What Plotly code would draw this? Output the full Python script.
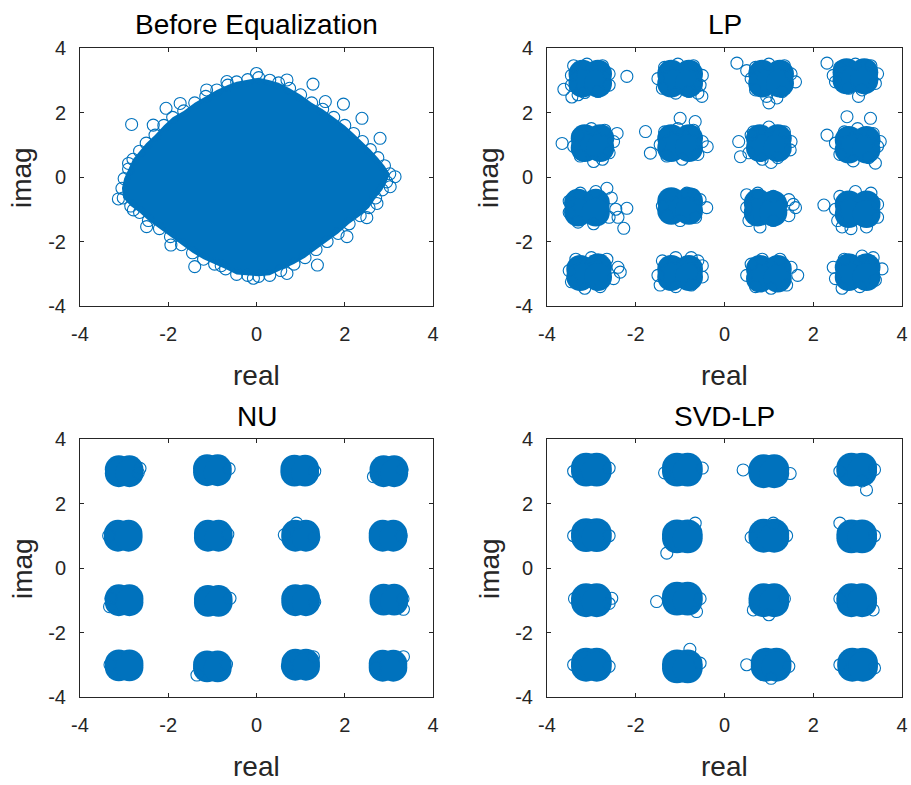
import plotly.graph_objects as go

BLUE = '#0072BD'
INK = '#262626'
FONT = 'Liberation Sans, Arial, Helvetica, sans-serif'

titles = ['Before Equalization', 'LP', 'NU', 'SVD-LP']
x_label = 'real'
y_label = 'imag'
tick_vals = [-4, -2, 0, 2, 4]
tick_text = ['-4', '-2', '0', '2', '4']

# ---------- Panel 1: Before Equalization ----------
# outer ring of the dense cloud, clockwise from the top
blob_ring = [
    (-0.45, 2.95), (-0.2, 3.02), (0.05, 3.08), (0.3, 3.0), (0.5, 2.92),
    (0.75, 2.75), (1.0, 2.55), (1.25, 2.3), (1.5, 2.1), (1.75, 1.85), (2.0, 1.6),
    (2.2, 1.35), (2.4, 1.1), (2.58, 0.85), (2.75, 0.6), (2.9, 0.35), (3.02, 0.1),
    (2.95, -0.15), (2.85, -0.4), (2.7, -0.65), (2.55, -0.95), (2.35, -1.2),
    (2.1, -1.45), (1.85, -1.75), (1.6, -2.0), (1.35, -2.25), (1.1, -2.5),
    (0.85, -2.7), (0.55, -2.9), (0.3, -3.05), (0.05, -3.08),
    (-0.2, -3.05), (-0.45, -3.02), (-0.7, -2.85), (-0.95, -2.7), (-1.2, -2.55),
    (-1.45, -2.35), (-1.7, -2.1), (-1.95, -1.85), (-2.2, -1.6), (-2.45, -1.35),
    (-2.65, -1.1), (-2.85, -0.9), (-3.02, -0.65),
    (-3.05, -0.35), (-3.0, -0.05), (-2.9, 0.25), (-2.8, 0.55), (-2.65, 0.8),
    (-2.5, 1.05), (-2.3, 1.3), (-2.1, 1.6), (-1.9, 1.85), (-1.65, 2.05),
    (-1.4, 2.3), (-1.15, 2.5), (-0.9, 2.7), (-0.65, 2.85),
]
# sparse samples outside the dense cloud
blob_outliers = [
    (-2.83, 1.63), (-2.34, 1.61), (-2.05, 2.13), (1.28, 2.88), (0.69, 3.01),
    (-0.67, 2.96), (0.0, 3.21), (1.56, 2.34), (1.97, 2.26), (2.39, 1.82),
    (2.8, 1.2), (-1.73, 2.28), (-1.13, 2.7), (3.14, 0.01),
    (-3.13, -0.68), (-2.9, 0.42), (-1.4, -2.78), (1.38, -2.73), (2.73, -0.82),
    (2.5, -1.26), (-1.94, -2.11), (-0.8, -2.75), (-2.79, -1.02), (-2.49, -1.54),
    (2.05, -1.85), (3.03, -0.3), (0.69, -2.99), (-0.07, -3.14),
]

# ---------- Panel 2: LP ----------
lp_core = [
    (-3.2, 3.2), (-2.85, 3.2), (-3.2, 2.9), (-2.85, 2.9),
    (-1.2, 3.2), (-0.8, 3.2), (-1.2, 2.9), (-0.8, 2.9),
    (0.85, 3.2), (1.25, 3.2), (0.85, 2.9), (1.25, 2.9),
    (2.75, 3.25), (3.15, 3.25), (2.75, 3.0), (3.15, 3.0),
    (-3.15, 1.2), (-2.8, 1.2), (-3.15, 0.9), (-2.8, 0.9),
    (-1.2, 1.2), (-0.8, 1.2), (-1.2, 0.9), (-0.8, 0.9),
    (0.8, 1.2), (1.2, 1.2), (0.8, 0.9), (1.2, 0.9),
    (2.8, 1.15), (3.2, 1.15), (2.8, 0.85), (3.2, 0.85),
    (-3.3, -0.8), (-2.9, -0.8), (-3.3, -1.1), (-2.9, -1.1),
    (-1.2, -0.75), (-0.8, -0.75), (-1.2, -1.05), (-0.8, -1.05),
    (0.75, -0.8), (1.1, -0.85), (0.75, -1.1), (1.1, -1.1),
    (2.8, -0.85), (3.2, -0.85), (2.8, -1.15), (3.2, -1.15),
    (-3.25, -2.85), (-2.85, -2.8), (-3.25, -3.1), (-2.85, -3.1),
    (-1.2, -2.85), (-0.8, -2.85), (-1.2, -3.1), (-0.8, -3.1),
    (0.8, -2.85), (1.2, -2.85), (0.8, -3.15), (1.2, -3.15),
    (2.8, -2.8), (3.2, -2.8), (2.8, -3.1), (3.2, -3.1),
]
lp_edge = [
    (-3.4, 3.45), (-3.1, 3.5), (-2.75, 3.45), (-2.6, 3.2), (-2.6, 2.85), (-2.85, 2.65),
    (-3.15, 2.62), (-3.45, 2.85), (-3.45, 3.15), (-3.62, 2.72), (-3.44, 2.48), (-2.2, 3.12), (-3.3, 2.55),
    (-1.35, 3.4), (-1.05, 3.5), (-0.7, 3.45), (-0.5, 3.15), (-0.55, 2.85), (-0.8, 2.65),
    (-1.1, 2.6), (-1.4, 2.75), (-1.5, 3.05), (-0.51, 2.5), (-0.6, 2.6),
    (0.7, 3.4), (1.0, 3.5), (1.35, 3.45), (1.5, 3.2), (1.6, 2.95), (1.3, 2.65),
    (0.95, 2.5), (0.7, 2.7), (0.6, 3.05), (0.28, 3.53), (1.0, 2.3), (1.18, 2.45), (0.5, 3.3),
    (2.6, 3.4), (2.95, 3.5), (3.3, 3.45), (3.45, 3.2), (3.4, 2.9), (3.1, 2.7),
    (2.8, 2.75), (2.5, 2.95), (2.31, 3.53), (3.02, 2.5), (2.45, 3.15),
    (-3.3, 1.3), (-3.0, 1.5), (-2.7, 1.45), (-2.5, 1.1), (-2.6, 0.75), (-2.95, 0.48),
    (-3.25, 0.65), (-3.4, 0.95), (-3.66, 1.04), (-2.42, 1.35), (-2.75, 0.55),
    (-1.35, 1.4), (-1.05, 1.5), (-0.7, 1.45), (-0.5, 1.1), (-0.6, 0.7), (-0.95, 0.55),
    (-1.3, 0.65), (-1.45, 1.0), (-1.78, 1.41), (-1.67, 0.74), (-1.0, 1.82), (-0.66, 1.72), (-0.39, 0.94),
    (0.65, 1.4), (1.0, 1.55), (1.35, 1.4), (1.5, 1.1), (1.48, 0.84), (1.2, 0.6),
    (0.85, 0.55), (0.55, 0.75), (0.32, 1.1), (0.36, 0.63), (1.05, 0.45), (0.6, 1.3),
    (2.7, 1.4), (3.0, 1.5), (3.35, 1.35), (3.45, 0.95), (3.25, 0.6), (2.9, 0.5),
    (2.6, 0.7), (2.5, 1.05), (2.31, 1.3), (3.29, 1.82), (3.4, 0.43), (2.76, 1.87), (3.51, 1.1),
    (-3.5, -0.75), (-3.5, -1.1), (-3.3, -1.4), (-2.95, -1.45), (-2.6, -1.25), (-2.45, -1.0),
    (-2.55, -0.65), (-2.9, -0.45), (-3.25, -0.5), (-2.27, -1.59), (-2.2, -0.97), (-2.65, -0.35), (-2.4, -1.25),
    (-1.4, -0.9), (-1.2, -0.55), (-0.85, -0.5), (-0.55, -0.7), (-0.4, -0.95), (-0.65, -1.25),
    (-1.0, -1.35), (-1.3, -1.2), (-0.7, -0.55),
    (0.5, -0.55), (0.5, -0.95), (0.55, -1.35), (0.8, -1.55), (1.1, -1.35), (1.45, -1.2),
    (1.6, -0.95), (1.45, -0.7), (1.1, -0.6), (0.75, -0.5), (1.55, -0.85),
    (2.6, -0.6), (2.95, -0.45), (3.3, -0.5), (3.45, -0.85), (3.45, -1.25), (3.2, -1.55),
    (2.85, -1.6), (2.55, -1.35), (2.5, -1.0), (2.24, -0.87), (2.65, -1.55),
    (-3.5, -2.9), (-3.35, -2.55), (-3.0, -2.5), (-2.65, -2.55), (-2.4, -2.8), (-2.5, -3.15),
    (-2.8, -3.4), (-3.15, -3.45), (-3.45, -3.25), (-2.35, -2.95),
    (-1.4, -2.6), (-1.1, -2.5), (-0.75, -2.5), (-0.5, -2.75), (-0.5, -3.1), (-0.75, -3.35),
    (-1.1, -3.4), (-1.45, -3.35), (-1.5, -3.05), (-0.6, -2.6),
    (0.6, -2.7), (0.85, -2.55), (1.25, -2.55), (1.5, -2.8), (1.65, -3.05), (1.4, -3.35),
    (1.05, -3.45), (0.7, -3.4), (0.5, -3.05),
    (2.45, -2.8), (2.7, -2.55), (3.1, -2.45), (3.35, -2.5), (3.55, -2.85), (3.4, -3.2),
    (3.05, -3.4), (2.65, -3.45), (2.5, -3.15),
]

# ---------- Panel 3: NU ----------
nu_core = [
    (-3.12, 3.06), (-2.88, 3.06), (-3.12, 2.94), (-2.88, 2.94),
    (-1.12, 3.09), (-0.88, 3.09), (-1.12, 2.97), (-0.88, 2.97),
    (0.86, 3.08), (1.1, 3.08), (0.86, 2.96), (1.1, 2.96),
    (2.88, 3.06), (3.12, 3.06), (2.88, 2.94), (3.12, 2.94),
    (-3.14, 1.06), (-2.9, 1.06), (-3.14, 0.94), (-2.9, 0.94),
    (-1.1, 1.06), (-0.86, 1.06), (-1.1, 0.94), (-0.86, 0.94),
    (0.88, 1.06), (1.12, 1.06), (0.88, 0.94), (1.12, 0.94),
    (2.86, 1.06), (3.1, 1.06), (2.86, 0.94), (3.1, 0.94),
    (-3.12, -0.94), (-2.88, -0.94), (-3.12, -1.06), (-2.88, -1.06),
    (-1.1, -0.96), (-0.86, -0.96), (-1.1, -1.08), (-0.86, -1.08),
    (0.88, -0.94), (1.12, -0.94), (0.88, -1.06), (1.12, -1.06),
    (2.88, -0.92), (3.12, -0.92), (2.88, -1.04), (3.12, -1.04),
    (-3.12, -2.96), (-2.88, -2.96), (-3.12, -3.08), (-2.88, -3.08),
    (-1.12, -2.99), (-0.88, -2.99), (-1.12, -3.11), (-0.88, -3.11),
    (0.88, -2.94), (1.12, -2.94), (0.88, -3.06), (1.12, -3.06),
    (2.86, -2.97), (3.1, -2.97), (2.86, -3.09), (3.1, -3.09),
]
nu_edge = [
    (-2.64, 3.09), (2.65, 2.83), (0.91, 1.39), (0.63, 1.03), (-0.6, -0.94),
    (-3.33, -1.2), (-1.35, -3.32), (1.29, -2.75), (3.33, -2.75), (3.33, -1.28),
    (-2.68, 2.95), (-0.62, 3.08), (1.32, 3.0), (3.3, 3.05), (-3.35, 1.0),
    (-0.65, 1.05), (1.3, 0.95), (3.28, 1.0), (-3.3, -0.95), (1.32, -1.05),
    (3.32, -0.95), (-3.32, -3.0), (-0.68, -2.98), (0.7, -3.05), (2.7, -3.1),
]

# ---------- Panel 4: SVD-LP ----------
svd_core = [
    (-3.12, 3.11), (-2.88, 3.11), (-3.12, 2.99), (-2.88, 2.99),
    (-1.07, 3.11), (-0.83, 3.11), (-1.07, 2.99), (-0.83, 2.99),
    (0.88, 3.06), (1.12, 3.06), (0.88, 2.94), (1.12, 2.94),
    (2.86, 3.11), (3.1, 3.11), (2.86, 2.99), (3.1, 2.99),
    (-3.12, 1.08), (-2.88, 1.08), (-3.12, 0.96), (-2.88, 0.96),
    (-1.07, 1.04), (-0.83, 1.04), (-1.07, 0.92), (-0.83, 0.92),
    (0.88, 1.06), (1.12, 1.06), (0.88, 0.94), (1.12, 0.94),
    (2.86, 1.04), (3.1, 1.04), (2.86, 0.92), (3.1, 0.92),
    (-3.12, -0.94), (-2.88, -0.94), (-3.12, -1.06), (-2.88, -1.06),
    (-1.07, -0.89), (-0.83, -0.89), (-1.07, -1.01), (-0.83, -1.01),
    (0.88, -0.94), (1.12, -0.94), (0.88, -1.06), (1.12, -1.06),
    (2.86, -0.94), (3.1, -0.94), (2.86, -1.06), (3.1, -1.06),
    (-3.12, -2.94), (-2.88, -2.94), (-3.12, -3.06), (-2.88, -3.06),
    (-1.07, -2.99), (-0.83, -2.99), (-1.07, -3.11), (-0.83, -3.11),
    (0.93, -2.94), (1.17, -2.94), (0.93, -3.06), (1.17, -3.06),
    (2.88, -2.94), (3.12, -2.94), (2.88, -3.06), (3.12, -3.06),
]
svd_edge = [
    (0.42, 3.04), (1.48, 2.93), (2.6, 1.39), (1.1, 1.39), (-0.66, 1.39),
    (-1.3, 0.46), (-2.54, -0.94), (-1.53, -1.04), (-0.63, -1.35), (0.65, -1.3),
    (3.35, -1.3), (0.5, -3.0), (-0.78, -2.52), (3.2, 2.42),
    (-3.4, 3.0), (-2.6, 3.1), (-0.5, 3.1), (-1.35, 2.95), (3.38, 3.05), (2.6, 3.0),
    (3.1, 2.7), (-2.6, 1.0), (-3.4, 1.0), (1.4, 1.0), (0.6, 0.95), (3.38, 1.0),
    (-0.55, -0.95), (-2.6, -1.1), (-3.38, -0.95), (1.0, -1.45), (1.35, -0.95),
    (2.6, -0.95), (-3.4, -3.0), (-2.6, -3.05), (-0.55, -2.95), (1.45, -3.05),
    (1.05, -3.42), (2.6, -3.0), (3.38, -3.1),
]


def xs(pts):
    return [p[0] for p in pts]


def ys(pts):
    return [p[1] for p in pts]


open_marker = dict(symbol='circle-open', size=12, color=BLUE, line=dict(width=1.1, color=BLUE))

fig = go.Figure()

# Panel 1
fig.add_trace(go.Scatter(x=xs(blob_ring) + [blob_ring[0][0]], y=ys(blob_ring) + [blob_ring[0][1]],
                         mode='lines', line=dict(width=0, color=BLUE), fill='toself',
                         fillcolor=BLUE, xaxis='x', yaxis='y', hoverinfo='skip'))
fig.add_trace(go.Scatter(x=xs(blob_ring), y=ys(blob_ring), mode='markers', marker=open_marker,
                         xaxis='x', yaxis='y'))
fig.add_trace(go.Scatter(x=xs(blob_outliers), y=ys(blob_outliers), mode='markers', marker=open_marker,
                         xaxis='x', yaxis='y'))

# Panels 2-4
for core, edge, size, ax in [(lp_core, lp_edge, 28, '2'), (nu_core, nu_edge, 28, '3'),
                             (svd_core, svd_edge, 30, '4')]:
    fig.add_trace(go.Scatter(x=xs(core), y=ys(core), mode='markers',
                             marker=dict(symbol='circle', size=size, color=BLUE, line=dict(width=0)),
                             xaxis='x' + ax, yaxis='y' + ax))
    fig.add_trace(go.Scatter(x=xs(edge), y=ys(edge), mode='markers', marker=open_marker,
                             xaxis='x' + ax, yaxis='y' + ax))

W, H = 911, 785
# pixel boxes of the four plot areas: (left, right, top, bottom)
boxes = [(80, 433, 48, 306), (547, 902, 48, 306), (80, 433, 439, 697), (547, 902, 439, 697)]

axis_common = dict(range=[-4, 4], tickmode='array', tickvals=tick_vals, ticktext=tick_text,
                   ticks='inside', ticklen=4, tickwidth=1, tickcolor=INK,
                   showline=True, linecolor=INK, linewidth=1, mirror='ticks',
                   showgrid=False, zeroline=False, fixedrange=True, automargin=False,
                   tickfont=dict(family=FONT, size=20, color=INK))

layout = dict(width=W, height=H, margin=dict(l=0, r=0, t=0, b=0, pad=0), showlegend=False,
              autosize=False, plot_bgcolor='white', paper_bgcolor='white', annotations=[])

for i, (l, r, t, b) in enumerate(boxes):
    sfx = '' if i == 0 else str(i + 1)
    layout['xaxis' + sfx] = dict(axis_common, domain=[l / W, r / W], anchor='y' + sfx,
                                 ticklabelstandoff=10)
    layout['yaxis' + sfx] = dict(axis_common, domain=[1 - b / H, 1 - t / H], anchor='x' + sfx,
                                 ticklabelstandoff=9)
    cx = (l + r) / 2
    cy = (t + b) / 2
    layout['annotations'].append(dict(text=titles[i], x=cx / W, y=1 - (t - 23) / H, xref='paper',
                                      yref='paper', xanchor='center', yanchor='middle', showarrow=False,
                                      font=dict(family=FONT, size=28, color='#000000')))
    layout['annotations'].append(dict(text=x_label, x=cx / W, y=1 - (b + 69) / H, xref='paper',
                                      yref='paper', xanchor='center', yanchor='middle', showarrow=False,
                                      font=dict(family=FONT, size=28, color=INK)))
    layout['annotations'].append(dict(text=y_label, x=(l - 58) / W, y=1 - (cy + 1) / H, xref='paper',
                                      yref='paper', xanchor='center', yanchor='middle', showarrow=False,
                                      textangle=-90, font=dict(family=FONT, size=28, color=INK)))

fig.update_layout(**layout)
fig.write_html('out.html', config={'displayModeBar': False},
               post_script="document.body.style.margin='0';document.body.style.overflow='hidden';")
